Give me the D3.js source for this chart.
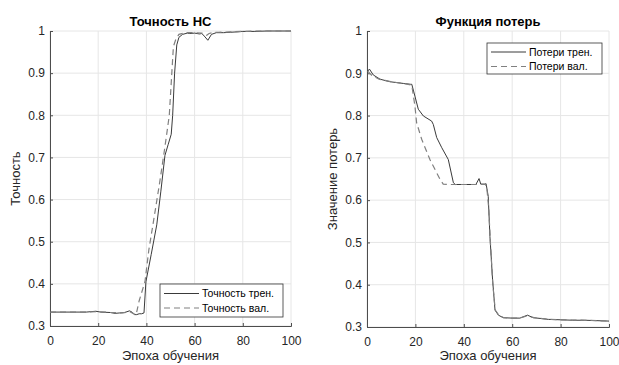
<!DOCTYPE html>
<html><head><meta charset="utf-8">
<script src="https://cdn.jsdelivr.net/npm/d3@7"></script>
<style>
body{margin:0;background:#fff;}
text{font-family:"Liberation Sans",Arial,Helvetica,sans-serif;}
</style></head>
<body><svg id="c" width="619" height="365"></svg>
<script>
// ---------- data ----------
const xTicks = [0, 20, 40, 60, 80, 100];
const yTicks = [0.3, 0.4, 0.5, 0.6, 0.7, 0.8, 0.9, 1];
const yTickLabels = ["0.3", "0.4", "0.5", "0.6", "0.7", "0.8", "0.9", "1"];

const accTrainEpoch = [0,5,10,15,19,21,25,27,29,31,33,34,35,36,37,38,39,39.8,42,44.3,46,47.7,49,50.3,50.9,51.7,52.6,53.5,55,57,58,60,62,63,64,65.5,67,69,72,75,78,80,85,90,95,100];
const accTrainVal   = [0.333,0.333,0.333,0.333,0.335,0.333,0.332,0.330,0.331,0.332,0.336,0.333,0.327,0.327,0.329,0.329,0.331,0.405,0.47,0.54,0.62,0.705,0.73,0.755,0.80,0.90,0.967,0.985,0.992,0.995,0.994,0.995,0.993,0.994,0.988,0.978,0.992,0.996,0.996,0.997,0.998,0.999,0.999,1.0,1.0,1.0];

const accValEpoch = [0,5,10,15,20,25,30,33,34.5,35.7,37,39.4,41,42.9,45.5,47.3,48.3,49.5,50.5,51.2,52.2,53.5,56,58,60,63,65,66,68,70,75,80,85,90,95,100];
const accValVal   = [0.333,0.333,0.333,0.333,0.334,0.332,0.331,0.334,0.330,0.326,0.36,0.405,0.48,0.547,0.64,0.71,0.75,0.80,0.896,0.963,0.98,0.992,0.996,0.996,0.996,0.995,0.99,0.994,0.997,0.997,0.998,0.999,1.0,1.0,1.0,1.0];

const lossTrainEpoch = [0.3,1,2.6,5.4,9.5,15,18,18.5,19.8,21.2,23.3,26.7,27.4,28.8,30.9,33.6,35.7,36.5,40,45,46.3,47,48.8,49.2,50.1,50.8,51.9,52.9,54.3,56.3,60,63.2,66.3,68.7,72,75,80,85,90,95,100];
const lossTrainVal   = [0.905,0.91,0.896,0.886,0.88,0.876,0.874,0.874,0.846,0.815,0.799,0.787,0.779,0.748,0.724,0.696,0.641,0.637,0.637,0.637,0.651,0.638,0.638,0.639,0.609,0.514,0.411,0.34,0.328,0.322,0.321,0.321,0.328,0.322,0.320,0.318,0.317,0.316,0.316,0.315,0.314];

const lossValEpoch = [0.3,2,5,10,15,18.5,19.8,20.5,22.6,26,30.2,31.5,34,40,45,49,49.5,50.3,51,52,53,54.5,56.5,60,63,66,69,75,80,90,100];
const lossValVal   = [0.905,0.895,0.886,0.88,0.876,0.872,0.823,0.783,0.744,0.696,0.649,0.638,0.637,0.637,0.637,0.637,0.630,0.58,0.50,0.40,0.34,0.328,0.322,0.321,0.321,0.326,0.322,0.318,0.317,0.316,0.314];

const panels = [
  {title:"Точность НС", ylabel:"Точность", x0:50, x1:291, y0:31, y1:326,
   train:[accTrainEpoch, accTrainVal], val:[accValEpoch, accValVal],
   legend:{x:160, y:284, w:123, h:33, names:["Точность трен.", "Точность вал."]}},
  {title:"Функция потерь", ylabel:"Значение потерь", x0:367, x1:609, y0:31, y1:327,
   train:[lossTrainEpoch, lossTrainVal], val:[lossValEpoch, lossValVal],
   legend:{x:487, y:43, w:115, h:31, names:["Потери трен.", "Потери вал."]}}
];

const svg = d3.select("#c");
const axisCol = "#4d4d4d", textCol = "#262626", gridCol = "#e6e6e6";

panels.forEach(p => {
  const x = d3.scaleLinear().domain([0,100]).range([p.x0, p.x1]);
  const y = d3.scaleLinear().domain([0.3,1]).range([p.y1, p.y0]);
  const g = svg.append("g");

  // grid
  g.append("g").selectAll("line").data(xTicks).join("line")
    .attr("x1", d=>x(d)).attr("x2", d=>x(d)).attr("y1", p.y0).attr("y2", p.y1)
    .attr("stroke", gridCol).attr("stroke-width", 1);
  g.append("g").selectAll("line").data(yTicks).join("line")
    .attr("y1", d=>y(d)).attr("y2", d=>y(d)).attr("x1", p.x0).attr("x2", p.x1)
    .attr("stroke", gridCol).attr("stroke-width", 1);

  // axes
  const xa = g.append("g").attr("transform", `translate(0,${p.y1})`)
    .call(d3.axisBottom(x).tickValues(xTicks).tickSize(-3).tickPadding(10.5).tickFormat(d3.format("d")));
  const ya = g.append("g").attr("transform", `translate(${p.x0},0)`)
    .call(d3.axisLeft(y).tickValues(yTicks).tickSize(-3).tickPadding(5).tickFormat((d,i)=>yTickLabels[i]));
  [xa, ya].forEach(a => {
    a.select(".domain").attr("stroke", axisCol).attr("stroke-width", 1);
    a.selectAll(".tick line").attr("stroke", axisCol);
    a.selectAll(".tick text").attr("fill", textCol).style("font-size", "12px")
      .style("font-family", '"Liberation Sans",Arial,sans-serif');
  });

  // lines
  const line = d3.line().x(d=>x(d[0])).y(d=>y(d[1]));
  const tr = p.train[0].map((e,i)=>[e, p.train[1][i]]);
  const va = p.val[0].map((e,i)=>[e, p.val[1][i]]);
  g.append("path").datum(tr).attr("d", line).attr("fill","none")
    .attr("stroke", "#3a3a3a").attr("stroke-width", 1);
  g.append("path").datum(va).attr("d", line).attr("fill","none")
    .attr("stroke", "#808080").attr("stroke-width", 1.2).attr("stroke-dasharray", "6,4");

  // title
  g.append("text").attr("x", (p.x0+p.x1)/2).attr("y", 26).attr("text-anchor","middle")
    .style("font-size","13px").style("font-weight","bold").attr("fill","#000").text(p.title);
  // x label
  g.append("text").attr("x", (p.x0+p.x1)/2).attr("y", 360).attr("text-anchor","middle")
    .style("font-size","13px").attr("fill", textCol).text("Эпоха обучения");
  // y label
  g.append("text").attr("transform", `translate(${p.x0-30},${(p.y0+p.y1)/2}) rotate(-90)`)
    .attr("text-anchor","middle").style("font-size","13px").attr("fill", textCol).text(p.ylabel);

  // legend
  const L = p.legend;
  const lg = g.append("g");
  lg.append("rect").attr("x", L.x).attr("y", L.y).attr("width", L.w).attr("height", L.h)
    .attr("fill","#fff").attr("stroke", "#333").attr("stroke-width", 0.8);
  const styles = [{c:"#3a3a3a", w:1, da:null},{c:"#808080", w:1.2, da:"6,4"}];
  L.names.forEach((n,i) => {
    const yy = L.y + 9 + i*14.5 + (L.h>32?0.5:0);
    lg.append("line").attr("x1", L.x+4).attr("x2", L.x+39).attr("y1", yy).attr("y2", yy)
      .attr("stroke", styles[i].c).attr("stroke-width", styles[i].w)
      .attr("stroke-dasharray", styles[i].da);
    lg.append("text").attr("x", L.x+42).attr("y", yy+3.8).style("font-size","10.5px")
      .attr("fill","#000").text(n);
  });
});
</script></body></html>
